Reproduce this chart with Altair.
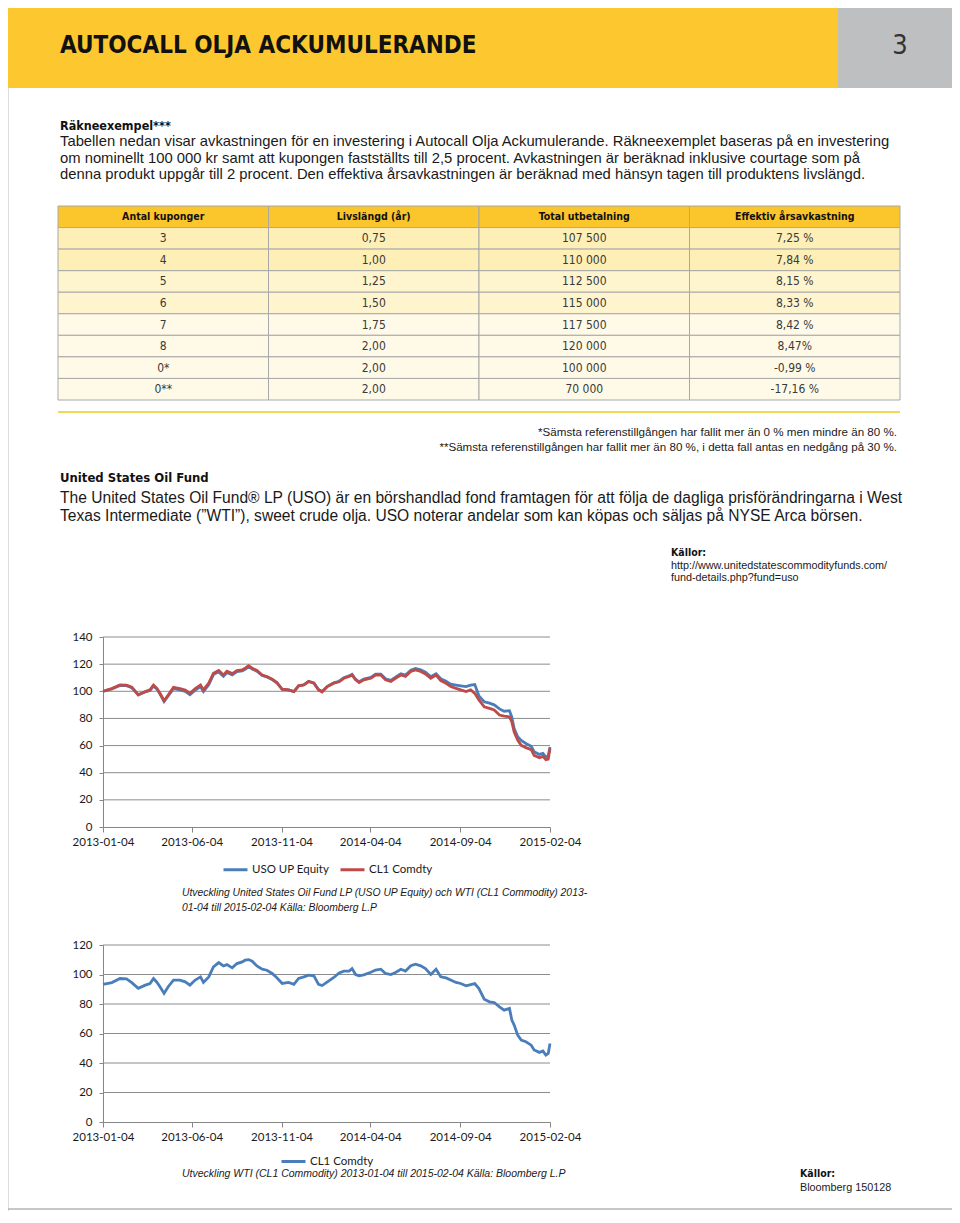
import altair as alt
import pandas as pd

# ---------------- text content ----------------
TITLE = "AUTOCALL OLJA ACKUMULERANDE"
PAGE_NO = "3"
HEAD1 = "Räkneexempel***"
PARA1 = [
    "Tabellen nedan visar avkastningen för en investering i Autocall Olja Ackumulerande. Räkneexemplet baseras på en investering",
    "om nominellt 100 000 kr samt att kupongen fastställts till 2,5 procent. Avkastningen är beräknad inklusive courtage som på",
    "denna produkt uppgår till 2 procent. Den effektiva årsavkastningen är beräknad med hänsyn tagen till produktens livslängd.",
]
TABLE_COLS = ["Antal kuponger", "Livslängd (år)", "Total utbetalning", "Effektiv årsavkastning"]
KUPONGER = ["3", "4", "5", "6", "7", "8", "0*", "0**"]
LIVSLANGD = ["0,75", "1,00", "1,25", "1,50", "1,75", "2,00", "2,00", "2,00"]
TOTAL = ["107 500", "110 000", "112 500", "115 000", "117 500", "120 000", "100 000", "70 000"]
EFFEKTIV = ["7,25 %", "7,84 %", "8,15 %", "8,33 %", "8,42 %", "8,47%", "-0,99 %", "-17,16 %"]
ROW_SHADE = ["a", "a", "b", "b", "c", "c", "c", "c"]
FOOTNOTES = [
    "*Sämsta referenstillgången har fallit mer än 0 % men mindre än 80 %.",
    "**Sämsta referenstillgången har fallit mer än 80 %, i detta fall antas en nedgång på 30 %.",
]
HEAD2 = "United States Oil Fund"
PARA2 = [
    "The United States Oil Fund® LP (USO) är en börshandlad fond framtagen för att följa de dagliga prisförändringarna i West",
    "Texas Intermediate (”WTI”), sweet crude olja. USO noterar andelar som kan köpas och säljas på NYSE Arca börsen.",
]
SOURCE1 = ["Källor:", "http://www.unitedstatescommodityfunds.com/", "fund-details.php?fund=uso"]
LEGEND1 = ["USO UP Equity", "CL1 Comdty"]
CAPTION1 = [
    "Utveckling United States Oil Fund LP (USO UP Equity) och WTI (CL1 Commodity) 2013-",
    "01-04 till 2015-02-04 Källa: Bloomberg L.P",
]
LEGEND2 = ["CL1 Comdty"]
CAPTION2 = ["Utveckling WTI (CL1 Commodity) 2013-01-04 till 2015-02-04 Källa: Bloomberg L.P"]
SOURCE2 = ["Källor:", "Bloomberg 150128"]

# ---------------- series data ----------------
DATES = [
    "2013-01-04", "2013-01-19", "2013-02-02", "2013-02-13", "2013-02-22", "2013-03-05", "2013-03-17", "2013-03-25", "2013-03-31", "2013-04-06",
    "2013-04-11", "2013-04-18", "2013-04-25", "2013-05-04", "2013-05-15", "2013-05-24", "2013-06-01", "2013-06-10", "2013-06-19", "2013-06-24",
    "2013-07-03", "2013-07-11", "2013-07-20", "2013-07-28", "2013-08-03", "2013-08-12", "2013-08-20", "2013-08-29", "2013-09-03", "2013-09-09",
    "2013-09-15", "2013-09-23", "2013-10-02", "2013-10-10", "2013-10-19", "2013-10-27", "2013-11-05", "2013-11-16", "2013-11-25", "2013-12-03",
    "2013-12-12", "2013-12-20", "2013-12-29", "2014-01-06", "2014-01-12", "2014-01-21", "2014-02-01", "2014-02-10", "2014-02-18", "2014-02-27",
    "2014-03-04", "2014-03-10", "2014-03-16", "2014-03-24", "2014-04-05", "2014-04-13", "2014-04-22", "2014-04-30", "2014-05-09", "2014-05-17",
    "2014-05-26", "2014-06-03", "2014-06-12", "2014-06-20", "2014-06-29", "2014-07-07", "2014-07-16", "2014-07-25", "2014-08-02", "2014-08-11",
    "2014-08-19", "2014-08-28", "2014-09-05", "2014-09-14", "2014-09-22", "2014-09-29", "2014-10-06", "2014-10-15", "2014-10-24", "2014-11-01",
    "2014-11-10", "2014-11-18", "2014-11-27", "2014-12-01", "2014-12-05", "2014-12-11", "2014-12-17", "2014-12-25", "2015-01-03", "2015-01-08",
    "2015-01-17", "2015-01-23", "2015-01-28", "2015-02-01", "2015-02-04",
]
USO = [
    100, 101.8, 104.3, 104.2, 102.6, 97.5, 99.5, 100.6, 104, 101.6,
    98, 92.5, 96.5, 102, 101, 100, 97.5, 100.8, 103.5, 99.8,
    104.8, 112.3, 114.3, 111, 113.8, 112, 114.5, 115, 116.2, 118,
    116.4, 114.8, 111.6, 110.6, 108.7, 106.3, 101.4, 101, 99.8, 104,
    104.8, 107.3, 106.2, 101.3, 99.8, 103.7, 106.3, 107.4, 110, 111.3,
    112.5, 108.9, 107, 109, 110.2, 112.6, 112.7, 109.2, 108, 110.4,
    112.9, 111.9, 115.6, 116.8, 115.8, 114, 110.8, 113, 109.3, 107.4,
    105.3, 104.6, 104, 103.4, 104.5, 105, 96.5, 92.3, 91.3, 90,
    87, 85.3, 85.7, 81, 72.6, 66.5, 63.8, 61.5, 59.5, 55.5,
    53.5, 54.2, 51.5, 52.5, 59,
]
CL1_IDX = [
    100, 102, 104.7, 104.5, 103, 97.3, 99.8, 101, 104.5, 102,
    98.5, 93, 97.3, 103, 102, 101, 98.5, 102, 104.7, 101,
    106, 113.3, 115.3, 112, 114.8, 113, 115.3, 115.8, 117, 118.8,
    117, 115.3, 112, 110.9, 108.9, 106.4, 101.5, 101, 99.8, 104,
    104.7, 107.2, 106, 101, 99.5, 103.5, 106, 107, 109.6, 110.9,
    112, 108.4, 106.4, 108.4, 109.6, 112, 112, 108.4, 107.2, 109.6,
    112, 110.9, 114.6, 115.8, 114.6, 112.8, 109.6, 112, 107.9, 105.9,
    103.5, 102.2, 101, 99.8, 101, 98.5, 93.6, 88.6, 87.4, 86.2,
    82.5, 81.7, 81.2, 77.5, 70, 64, 60.2, 58.5, 57, 52.8,
    51, 52, 49.6, 50, 57.8,
]
CL1_USD = [
    93.3, 94.5, 97.3, 97, 94.5, 90.6, 92.8, 93.9, 97.3, 94.6,
    91.7, 87.2, 91.7, 96.2, 96.2, 95, 92.8, 96.2, 98.4, 94.6,
    98.4, 105.2, 108.1, 105.8, 106.7, 104.5, 107.4, 108.5, 109.7, 110.1,
    109, 105.8, 103.6, 102.9, 100.7, 97.8, 93.9, 94.6, 93.3, 97.3,
    98.4, 99.6, 99.1, 93.3, 92.5, 95, 98, 101, 102.3, 102.3,
    104, 100, 99.1, 99.8, 101.5, 103, 103.6, 100.7, 100, 101.4,
    103.6, 102.3, 105.9, 107, 105.9, 104, 100, 103.5, 98.4, 97.7,
    96.2, 94.6, 93.9, 92.3, 93.2, 93.9, 90.5, 83.3, 81.5, 81,
    78.1, 75.8, 77, 69.1, 65.7, 58.9, 55.5, 54.4, 52.1, 48.8,
    47.2, 48.1, 45.4, 46.5, 53.3,
]
Y1_TICKS = [0, 20, 40, 60, 80, 100, 120, 140]
Y2_TICKS = [0, 20, 40, 60, 80, 100, 120]
X_TICKS = ["2013-01-04", "2013-06-04", "2013-11-04", "2014-04-04", "2014-09-04", "2015-02-04"]

# ---------------- styles ----------------
SANS = "Liberation Sans, Arial, Helvetica, sans-serif"
COND = "Liberation Sans Narrow, DejaVu Sans Condensed, sans-serif"
CHARTF = "Lato, Carlito, Calibri, sans-serif"
YELLOW = "#FDC82F"
GREY = "#BEBFC1"
BLUE = "#4A7EBB"
RED = "#BE4B48"
W, H = 944, 1203


def dt(s):
    return alt.DateTime(year=int(s[:4]), month=int(s[5:7]), date=int(s[8:10]))


def label(s, x, y, size, font=SANS, weight="normal", style="normal", align="left",
          color="#1a1a1a"):
    return alt.Chart(pd.DataFrame({"t": [s]})).mark_text(
        font=font, fontSize=size, fontWeight=weight, fontStyle=style, align=align,
        baseline="middle", color=color
    ).encode(text="t:N", x=alt.value(x), y=alt.value(y))


def box(x, x2, y, y2, color):
    return alt.Chart(pd.DataFrame({"a": [0]})).mark_rect(color=color).encode(
        x=alt.value(x), x2=alt.value(x2), y=alt.value(y), y2=alt.value(y2))


def hline(x, x2, y, color, width):
    return alt.Chart(pd.DataFrame({"a": [0]})).mark_rule(color=color, strokeWidth=width).encode(
        x=alt.value(x), x2=alt.value(x2), y=alt.value(y))


layers = []

# header
layers += [box(0, 830, 0, 80, YELLOW), box(830, W, 0, 80, GREY)]
layers.append(label(TITLE, 52, 38, 24, font=COND, weight="bold", color="#111"))
layers.append(label(PAGE_NO, 892, 38, 27, font=COND, align="center", color="#333"))

# first text block
layers.append(label(HEAD1, 52, 118, 12.5, font=COND, weight="bold", color="#111"))
for i, line in enumerate(PARA1):
    layers.append(label(line, 52, 134 + i * 16.5, 14.8))

# table
rows = ["h"] + [f"r{i}" for i in range(8)]
cells = []
for c in TABLE_COLS:
    cells.append({"row": "h", "col": c, "text": c, "shade": "h"})
cols_vals = [KUPONGER, LIVSLANGD, TOTAL, EFFEKTIV]
for i in range(8):
    for j, c in enumerate(TABLE_COLS):
        cells.append({"row": f"r{i}", "col": c, "text": cols_vals[j][i], "shade": ROW_SHADE[i]})
tdf = pd.DataFrame(cells)
tx = alt.X("col:N", scale=alt.Scale(type="band", domain=TABLE_COLS, range=[50, 892],
                                     paddingInner=0, paddingOuter=0), axis=None)
ty = alt.Y("row:N", scale=alt.Scale(type="band", domain=rows, range=[198, 392],
                                     paddingInner=0, paddingOuter=0), axis=None)
tbase = alt.Chart(tdf)
t_rect = tbase.mark_rect(stroke="#a8a8a8", strokeWidth=1).encode(
    x=tx, y=ty,
    fill=alt.Fill("shade:N", scale=alt.Scale(domain=["h", "a", "b", "c"],
                                              range=["#FBC52C", "#FDEFB6", "#FEF4CE", "#FFFAE8"]),
                  legend=None))
t_head = tbase.transform_filter(alt.datum.row == "h").mark_text(
    font=COND, fontSize=10.5, fontWeight="bold", color="#111").encode(x=tx, y=ty, text="text:N")
t_body = tbase.transform_filter(alt.datum.row != "h").mark_text(
    font=COND, fontSize=12, color="#3a3a3a").encode(x=tx, y=ty, text="text:N")
layers.append(alt.layer(t_rect, t_head, t_body))
layers.append(hline(50, 892, 404, "#F3D858", 2))

# footnotes
for i, line in enumerate(FOOTNOTES):
    layers.append(label(line, 889, 425 + i * 14.5, 11.6, align="right"))

# USO block
layers.append(label(HEAD2, 52, 470, 13, font=COND, weight="bold", color="#111"))
for i, line in enumerate(PARA2):
    layers.append(label(line, 52, 490 + i * 18, 15.6))
layers.append(label(SOURCE1[0], 663, 545, 10.5, font=COND, weight="bold", color="#111"))
layers.append(label(SOURCE1[1], 663, 558, 10.8))
layers.append(label(SOURCE1[2], 663, 570, 10.8))


# ---------------- line charts ----------------
def axis_x(offset):
    return alt.Axis(values=[dt(s) for s in X_TICKS], format="%Y-%m-%d", orient="bottom",
                    offset=offset, title=None, grid=False, labelFlush=False, labelOverlap=False,
                    labelFont=CHARTF, labelFontSize=11.5, labelColor="#1a1a1a", labelPadding=4,
                    tickSize=5, tickColor="#868686", domainColor="#868686")


def axis_y(values):
    return alt.Axis(values=values, orient="left", offset=-95, title=None, grid=False,
                    labelFont=CHARTF, labelFontSize=11.5, labelColor="#1a1a1a", labelPadding=7,
                    tickSize=4, tickColor="#868686", domainColor="#868686")


def line_chart(series_list, names, colors, ymax, yticks, ybottom, ytop, legx, legy):
    X = alt.X("date:T", scale=alt.Scale(domain=[dt(DATES[0]), dt(DATES[-1])], range=[95, 542],
                                         nice=False), axis=axis_x(ybottom - H))
    Y = alt.Y("value:Q", scale=alt.Scale(domain=[0, ymax], range=[ybottom, ytop], nice=False,
                                          zero=False), axis=axis_y(yticks))
    C = alt.Color("series:N", scale=alt.Scale(domain=names, range=colors),
                  legend=alt.Legend(orient="none", legendX=legx, legendY=legy, direction="horizontal",
                                    title=None, symbolType="stroke", symbolSize=576,
                                    symbolStrokeWidth=3, labelFont=CHARTF, labelFontSize=11.5,
                                    labelColor="#1a1a1a", columnPadding=4, padding=0, labelOffset=3))
    grid = alt.Chart(pd.DataFrame({"value": yticks[1:]})).mark_rule(
        color="#8c8c8c", strokeWidth=1).encode(y=Y, x=alt.value(95), x2=alt.value(542))
    parts = [grid]
    for vals, name in zip(series_list, names):
        df = pd.DataFrame({"date": [d + "T00:00:00" for d in DATES], "value": vals, "series": name})
        parts.append(alt.Chart(df).mark_line(strokeWidth=2.8).encode(x=X, y=Y, color=C))
    return alt.layer(*parts)


layers.append(line_chart([USO, CL1_IDX], LEGEND1, [BLUE, RED], 140, Y1_TICKS, 819, 629, 214, 848))
for i, line in enumerate(CAPTION1):
    layers.append(label(line, 174, 885 + i * 15, 10.35, style="italic"))

layers.append(line_chart([CL1_USD], LEGEND2, [BLUE], 120, Y2_TICKS, 1114, 937, 272, 1140))
layers.append(label(CAPTION2[0], 174, 1166, 10.5, style="italic"))
layers.append(label(SOURCE2[0], 792, 1166, 10.5, font=COND, weight="bold", color="#111"))
layers.append(label(SOURCE2[1], 792, 1180, 10.8))
layers.append(hline(0, W, 1201, "#b5b5b5", 1.5))

chart = alt.layer(*layers).resolve_scale(
    x="independent", y="independent", color="independent", fill="independent"
).properties(
    width=W, height=H, autosize=alt.AutoSizeParams(type="none"), padding=0
).configure_view(stroke=None).configure(background="white")

chart.save("out.html", embed_options={"renderer": "svg", "actions": False})
